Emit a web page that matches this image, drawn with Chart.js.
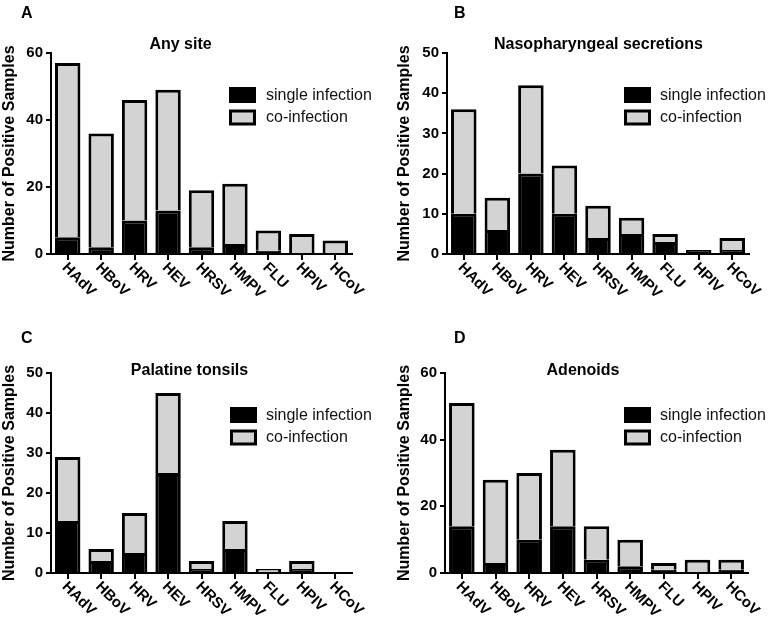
<!DOCTYPE html>
<html>
<head>
<meta charset="utf-8">
<script src="https://cdn.jsdelivr.net/npm/chart.js@4.4.1/dist/chart.umd.min.js"></script>
<style>
  html, body { margin: 0; padding: 0; background: #fff; }
  body { width: 772px; height: 622px; position: relative; overflow: hidden; }
  canvas { position: absolute; }
</style>
</head>
<body>
<canvas id="cA" width="386" height="300" style="left:0;top:0"></canvas>
<canvas id="cB" width="386" height="300" style="left:386px;top:0"></canvas>
<canvas id="cC" width="386" height="322" style="left:0;top:300px"></canvas>
<canvas id="cD" width="386" height="322" style="left:386px;top:300px"></canvas>
<script>
// ---- Data ----
const categories = ['HAdV', 'HBoV', 'HRV', 'HEV', 'HRSV', 'HMPV', 'FLU', 'HPIV', 'HCoV'];
const seriesNames = ['single infection', 'co-infection'];
const yAxisTitle = 'Number of Positive Samples';

const anySiteSingle = [5, 2, 10, 13, 2, 3, 1, 0, 0];
const anySiteCo     = [52, 34, 36, 36, 17, 18, 6, 6, 4];

const nasoSingle = [10, 6, 20, 10, 4, 5, 3, 1, 1];
const nasoCo     = [26, 8, 22, 12, 8, 4, 2, 0, 3];

const tonsilSingle = [13, 3, 5, 25, 1, 6, 0, 1, 0];
const tonsilCo     = [16, 3, 10, 20, 2, 7, 1, 2, 0];

const adenoidSingle = [14, 3, 10, 14, 4, 2, 1, 0, 1];
const adenoidCo     = [37, 25, 20, 23, 10, 8, 2, 4, 3];

const panelLetters = ['A', 'B', 'C', 'D'];
const panelTitles = ['Any site', 'Nasopharyngeal secretions', 'Palatine tonsils', 'Adenoids'];
const yMaxes = [60, 50, 50, 60];
const ySteps = [20, 10, 10, 20];

// ---- Layout / style ----
const FONT = "'Liberation Sans', Arial, Helvetica, sans-serif";
Chart.defaults.font.family = FONT;
const GRAY = '#d3d3d3';

const layouts = [
  { id: 'cA', W: 386, H: 300, area: { l: 51, t: 53, r: 352, b: 254 }, yTitlePad: 0,
    letter: [21, 17.5], title: [180.5, 48.5], legend: [229, 87], legendText: 266 },
  { id: 'cB', W: 386, H: 300, area: { l: 61, t: 53, r: 363, b: 254 }, yTitlePad: 9,
    letter: [68, 17.5], title: [212.5, 48.5], legend: [238, 87], legendText: 274 },
  { id: 'cC', W: 386, H: 322, area: { l: 51, t: 73, r: 352, b: 273 }, yTitlePad: 0,
    letter: [21, 43], title: [189.5, 74.5], legend: [230, 107], legendText: 266 },
  { id: 'cD', W: 386, H: 322, area: { l: 59, t: 73, r: 362, b: 273 }, yTitlePad: 9,
    letter: [68, 43], title: [197, 74.5], legend: [238, 107], legendText: 274 }
];

const decorPlugin = {
  id: 'panelDecor',
  afterDraw(chart, args, o) {
    const ctx = chart.ctx;
    const xs = chart.scales.x;
    const area = chart.chartArea;
    ctx.save();
    // panel letter
    ctx.fillStyle = '#000';
    ctx.font = 'bold 16px ' + FONT;
    ctx.textAlign = 'left';
    ctx.textBaseline = 'alphabetic';
    ctx.fillText(o.letter, o.letterPos[0], o.letterPos[1]);
    // title
    ctx.textAlign = 'center';
    ctx.fillText(o.title, o.titlePos[0], o.titlePos[1]);
    // x labels rotated +45deg
    ctx.font = 'bold 15px ' + FONT;
    ctx.textAlign = 'left';
    ctx.textBaseline = 'top';
    chart.data.labels.forEach((lab, i) => {
      const x = xs.getPixelForValue(i);
      ctx.save();
      ctx.translate(x + 2, area.bottom + 6);
      ctx.rotate(Math.PI / 4);
      ctx.fillText(lab, 0, 0);
      ctx.restore();
    });
    // legend
    ctx.font = '16px ' + FONT;
    ctx.textBaseline = 'middle';
    chart.data.datasets.forEach((ds, i) => {
      const bx = o.legendPos[0], by = o.legendPos[1] + i * 22.5;
      const bw = 27, bh = 16;
      ctx.fillStyle = '#000';
      ctx.fillRect(bx, by, bw, bh);
      if (ds.backgroundColor !== '#000') {
        ctx.fillStyle = ds.backgroundColor;
        ctx.fillRect(bx + 3, by + 3, bw - 6, bh - 6);
      }
      ctx.fillStyle = '#111';
      ctx.fillText(ds.label, o.legendText, by + bh / 2 + 0.5);
    });
    ctx.restore();
  }
};

const singles = [anySiteSingle, nasoSingle, tonsilSingle, adenoidSingle];
const cos = [anySiteCo, nasoCo, tonsilCo, adenoidCo];

layouts.forEach((L, k) => {
  new Chart(document.getElementById(L.id), {
    type: 'bar',
    data: {
      labels: categories,
      datasets: [
        { label: seriesNames[0], data: singles[k], backgroundColor: '#000', borderColor: '#000',
          borderWidth: 3, barPercentage: 0.76, categoryPercentage: 1, borderSkipped: 'start' },
        { label: seriesNames[1], data: cos[k], backgroundColor: GRAY, borderColor: '#000',
          borderWidth: 3, barPercentage: 0.76, categoryPercentage: 1, borderSkipped: 'start' }
      ]
    },
    options: {
      responsive: false,
      animation: false,
      devicePixelRatio: 1,
      layout: { padding: { top: L.area.t, right: L.W - L.area.r, left: 0, bottom: 0 } },
      plugins: {
        legend: { display: false },
        title: { display: false },
        tooltip: { enabled: false },
        panelDecor: {
          letter: panelLetters[k], letterPos: L.letter,
          title: panelTitles[k], titlePos: L.title,
          legendPos: L.legend, legendText: L.legendText
        }
      },
      scales: {
        x: {
          stacked: true,
          offset: true,
          grid: { offset: false, drawOnChartArea: false, drawTicks: true, tickLength: 6, color: '#000', lineWidth: 2 },
          border: { display: true, color: '#000', width: 2 },
          ticks: { display: false },
          afterFit: s => { s.height = L.H - L.area.b; }
        },
        y: {
          stacked: true,
          min: 0,
          max: yMaxes[k],
          grid: { drawOnChartArea: false, drawTicks: true, tickLength: 5, color: '#000', lineWidth: 2 },
          border: { display: true, color: '#000', width: 2 },
          ticks: { stepSize: ySteps[k], color: '#000', padding: 3, font: { size: 15, weight: 'bold' } },
          title: { display: true, text: yAxisTitle, color: '#000',
                   font: { size: 16, weight: 'bold' }, padding: { top: L.yTitlePad, bottom: 0 } },
          afterFit: s => { s.width = L.area.l; }
        }
      }
    },
    plugins: [decorPlugin]
  });
});
</script>
</body>
</html>
